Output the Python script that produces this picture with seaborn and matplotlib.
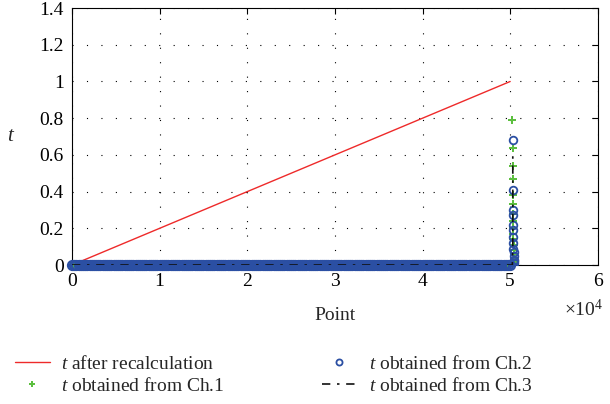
import numpy as np
import pandas as pd
import matplotlib
matplotlib.use("Agg")
import matplotlib.pyplot as plt
import seaborn as sns
from matplotlib.ticker import FixedLocator, FuncFormatter

sns.set_theme(style="white")
plt.rcParams['font.family'] = ['Liberation Serif', 'DejaVu Serif']
plt.rcParams['mathtext.fontset'] = 'custom'
plt.rcParams['mathtext.it'] = 'Liberation Serif:italic'
plt.rcParams['mathtext.rm'] = 'Liberation Serif'

# ---- data ----
recalc_x = [0, 50000]
recalc_y = [0.0, 1.0]

baseline_x = list(range(0, 50001, 250))          # points along the flat part
baseline_y = [0.0] * len(baseline_x)

spike_x_ch1 = [50250, 50280, 50300, 50310, 50320, 50330, 50340, 50350, 50360, 50370,
               50380, 50390, 50400, 50410, 50420, 50430, 50440]
spike_y_ch1 = [0.79, 0.64, 0.54, 0.47, 0.38, 0.33, 0.28, 0.24, 0.20, 0.17,
               0.14, 0.11, 0.08, 0.06, 0.04, 0.02, 0.01]

spike_x_ch2 = [50300, 50310, 50320, 50330, 50340, 50350, 50360, 50370, 50380,
               50390, 50400, 50410, 50420, 50430]
spike_y_ch2 = [0.68, 0.41, 0.30, 0.27, 0.22, 0.19, 0.15, 0.12, 0.09,
               0.07, 0.05, 0.03, 0.02, 0.01]

ch3_x = [0, 50000, 50250, 50300, 50300]
ch3_y = [0.0, 0.0, 0.0, 0.10, 0.60]

xticks = [0, 10000, 20000, 30000, 40000, 50000, 60000]
yticks = [0, 0.2, 0.4, 0.6, 0.8, 1.0, 1.2, 1.4]

FS = 14
BLUE = '#2b4fa3'
GREEN = '#5cbf3f'

fig = plt.figure(figsize=(6.10, 4.04), dpi=100)
ax = fig.add_axes([0.118, 0.344, 0.862, 0.636])

sns.lineplot(x=recalc_x, y=recalc_y, ax=ax, color='#ee2a2a', linewidth=1.0,
             label='$t$ after recalculation', zorder=3)
# baseline markers (thick band)
sns.lineplot(x=baseline_x, y=baseline_y, ax=ax, color=GREEN, linestyle='none', marker='P',
             markersize=5, markeredgewidth=0, estimator=None, sort=False, zorder=4,
             clip_on=False, legend=False)
sns.lineplot(x=baseline_x, y=baseline_y, ax=ax, color=BLUE, linestyle='none', marker='o',
             markersize=6.5, markerfacecolor='none', markeredgecolor=BLUE,
             markeredgewidth=1.6, estimator=None, sort=False, zorder=5,
             clip_on=False, legend=False)
# spike markers
sns.lineplot(x=spike_x_ch1, y=spike_y_ch1, ax=ax, color=GREEN, linestyle='none', marker='P',
             markersize=6, markeredgewidth=0, label='$t$ obtained from Ch.1',
             estimator=None, sort=False, zorder=4)
sns.lineplot(x=spike_x_ch2, y=spike_y_ch2, ax=ax, color=BLUE, linestyle='none', marker='o',
             markersize=5.5, markerfacecolor='none', markeredgecolor=BLUE,
             markeredgewidth=1.3, label='$t$ obtained from Ch.2',
             estimator=None, sort=False, zorder=5)
sns.lineplot(x=ch3_x, y=ch3_y, ax=ax, color='#111111', linewidth=1.2,
             linestyle=(0, (5, 4, 1.5, 4)), label='$t$ obtained from Ch.3',
             estimator=None, sort=False, zorder=6)

ax.set_xlim(0, 60000)
ax.set_ylim(0, 1.4)
ax.xaxis.set_major_locator(FixedLocator(xticks))
ax.yaxis.set_major_locator(FixedLocator(yticks))
ax.xaxis.set_major_formatter(FuncFormatter(lambda v, p: f"{v/10000:g}"))
ax.yaxis.set_major_formatter(FuncFormatter(lambda v, p: f"{v:g}"))
ax.tick_params(direction='in', top=True, right=True, length=4, width=0.8,
               labelsize=FS, colors='black', pad=6)
for s in ax.spines.values():
    s.set_visible(True)
    s.set_color('black')
    s.set_linewidth(0.8)
ax.grid(True, color='black', linestyle=(0, (1, 12)), linewidth=0.8)
ax.set_xlabel('Point', fontsize=FS, labelpad=12)
ax.set_ylabel('$t$', fontsize=FS + 1, rotation=0, labelpad=20, va='center')
ax.text(1.01, -0.13, r'$\times\mathregular{10}^{\mathregular{4}}$', transform=ax.transAxes,
        ha='right', va='top', fontsize=FS)

handles, labels = ax.get_legend_handles_labels()
ax.get_legend().remove()
fig.legend(handles, labels, ncol=2, frameon=False,
           fontsize=FS, loc='upper left', bbox_to_anchor=(0.024, 0.121),
           bbox_transform=fig.transFigure, borderpad=0, borderaxespad=0,
           columnspacing=5.0, handlelength=1.8,
           handletextpad=0.6, labelspacing=0.2, markerscale=0.8)

fig.savefig('out.png', dpi=100)
